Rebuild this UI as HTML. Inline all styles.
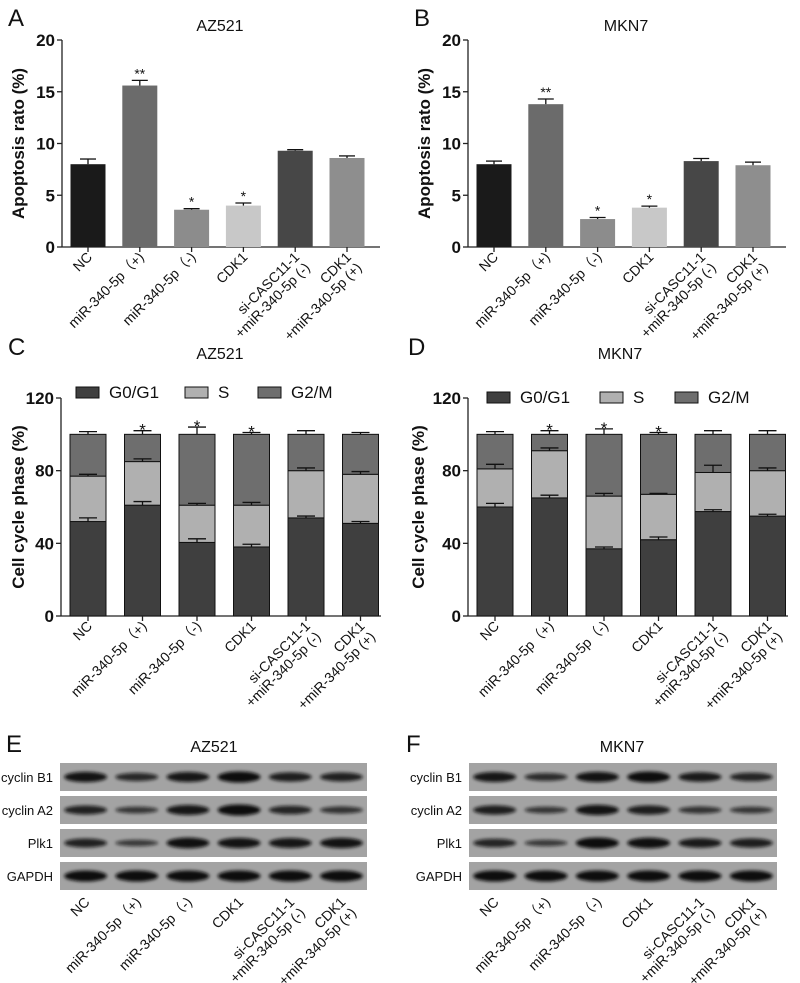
<!DOCTYPE html>
<html><head><meta charset="utf-8"><style>
body{margin:0;background:#fff}
svg{display:block;font-family:"Liberation Sans",Arial,sans-serif}
</style></head><body>
<svg id="fig" width="800" height="983" viewBox="0 0 800 983" xmlns="http://www.w3.org/2000/svg">
<defs><filter id="blur" x="-20%" y="-100%" width="140%" height="300%"><feGaussianBlur stdDeviation="1.6"/></filter></defs>
</svg>
<script>
const categories=["NC","miR-340-5p（+)","miR-340-5p（-)","CDK1","si-CASC11-1|+miR-340-5p (-)","CDK1|+miR-340-5p (+)"];
const apopA=[8.0,15.6,3.6,4.0,9.3,8.6];
const apopAErr=[0.5,0.5,0.1,0.25,0.1,0.2];
const apopB=[8.0,13.8,2.7,3.8,8.3,7.9];
const apopBErr=[0.3,0.5,0.15,0.15,0.25,0.3];
const sigApop=["","**","*","*","",""];
const g1C=[52,61,40.5,38,54,51];
const sC=[25,24,20.5,23,26,27];
const g2C=[23,15,39,39,20,22];
const g1CErr=[2,2,2,1.5,1,1];
const sCErr=[1,1.5,1,1.5,1.5,1.5];
const g2CErr=[1.5,2,4,1,2,1];
const g1D=[60,65,37,42,57.5,55];
const sD=[21,26,29,25,21.5,25];
const g2D=[19,9,34,33,21,20];
const g1DErr=[2,1.5,1,1.5,1,1];
const sDErr=[2.5,1.5,1.5,0.5,4,1.5];
const g2DErr=[1.5,2,3,1,2,2];
const sigCycle=["","*","*","*","",""];
const apopTicks=[0,5,10,15,20];
const cycleTicks=[0,40,80,120];
const blotRows=["cyclin B1","cyclin A2","Plk1","GAPDH"];
const bandE=[[0.9,0.6,0.85,1.0,0.75,0.7],[0.7,0.4,0.85,1.0,0.65,0.45],[0.7,0.35,0.95,0.9,0.85,0.9],[1,1,1,1,1,1]];
const bandF=[[0.85,0.55,0.9,1.0,0.8,0.65],[0.75,0.4,0.9,0.75,0.45,0.4],[0.65,0.35,1.0,0.95,0.8,0.75],[1,1,1,1,1,1]];

const svg=document.getElementById('fig');
const NS="http://www.w3.org/2000/svg";
function mk(tag,attrs,parent){const e=document.createElementNS(NS,tag);for(const k in attrs)e.setAttribute(k,attrs[k]);(parent||svg).appendChild(e);return e;}
function txt(s,attrs,parent){const e=mk('text',attrs,parent);e.textContent=s;return e;}

const apopColors=["#1a1a1a","#6b6b6b","#8c8c8c","#c8c8c8","#474747","#8e8e8e"];

function xLabels(g,xs,y0,name){
  categories.forEach((c,i)=>{
    const parts=c.split('|');
    const t=mk('text',{transform:`translate(${xs[i]+5},${y0}) rotate(-45)`,'text-anchor':'end','font-size':14,fill:'#111'},g);
    
    
    parts.forEach((p,j)=>{const ts=mk('tspan',{x:0,dy:j?15:0},t);ts.textContent=p;});
  });
}

function axisFrame(g,ox,top,bot,right,ticks,max,title,name){
  const y=v=>bot-(bot-top)*v/max;
  mk('line',{x1:ox,y1:top,x2:ox,y2:bot,stroke:'#222','stroke-width':1.3},g);
  mk('line',{x1:ox,y1:bot,x2:right,y2:bot,stroke:'#222','stroke-width':1.3},g);
  ticks.forEach(t=>{
    mk('line',{x1:ox-5,y1:y(t),x2:ox,y2:y(t),stroke:'#222','stroke-width':1.3},g);
    const l=txt(String(t),{x:ox-7,y:y(t)+6,'text-anchor':'end','font-size':17,'font-weight':'bold',fill:'#111'},g);
    
    
  });
  const yt=txt(title,{transform:`translate(24,${(top+bot)/2}) rotate(-90)`,'text-anchor':'middle','font-size':17,'font-weight':'bold',fill:'#111'},g);
  
  
  return y;
}

function errBar(g,x,yv,ye,hw){
  mk('line',{x1:x,y1:yv,x2:x,y2:ye,stroke:'#111','stroke-width':1.3},g);
  mk('line',{x1:x-hw,y1:ye,x2:x+hw,y2:ye,stroke:'#111','stroke-width':1.3},g);
}

function apopChart(dx,vals,errs,title,letter,name){
  const g=mk('g',{transform:`translate(${dx},0)`});
  
  
  const L=txt(letter,{x:8,y:26,'font-size':24,fill:'#111'},g);
  
  
  const T=txt(title,{x:220,y:31,'text-anchor':'middle','font-size':16,fill:'#111'},g);
  
  
  const y=axisFrame(g,62,40,247,380,apopTicks,20,'Apoptosis rato (%)',name);
  const xs=[];
  vals.forEach((v,i)=>{
    const cx=88+i*51.8;xs.push(cx);
    const r=mk('rect',{x:cx-17.5,y:y(v),width:35,height:247-y(v),fill:apopColors[i]},g);
    
    
    errBar(g,cx,y(v),y(v+errs[i]),8);
    mk('line',{x1:cx,y1:247,x2:cx,y2:252,stroke:'#222','stroke-width':1.3},g);
    if(sigApop[i]){const s=txt(sigApop[i],{x:cx,y:y(v+errs[i])-2,'text-anchor':'middle','font-size':14,fill:'#111'},g);
      
      }
  });
  xLabels(g,xs,258,name);
}

function cycleChart(dx,g1,s,g2,e1,e2,e3,title,letter,name,leg){
  const g=mk('g',{transform:`translate(${dx},0)`});
  
  
  const L=txt(letter,{x:8,y:355,'font-size':24,fill:'#111'},g);
  
  
  const T=txt(title,{x:220,y:359,'text-anchor':'middle','font-size':16,fill:'#111'},g);
  
  
  const ox=leg.ox, top=398, bot=616;
  const y=axisFrame(g,ox,top,bot,ox+320,cycleTicks,120,'Cell cycle phase (%)',name);
  const cols=["#3f3f3f","#b0b0b0","#6e6e6e"], lbl=["G0/G1","S","G2/M"];
  lbl.forEach((l,k)=>{
    const sw=mk('rect',{x:leg.sx[k],y:leg.y,width:23,height:11,fill:cols[k],stroke:'#111','stroke-width':1},g);
    
    
    const t=txt(l,{x:leg.sx[k]+33,y:leg.y+11,'font-size':17,fill:'#111'},g);
    
    
  });
  const xs=[];
  g1.forEach((v,i)=>{
    const cx=ox+27+i*54.5;xs.push(cx);
    const segs=[[0,v],[v,v+s[i]],[v+s[i],v+s[i]+g2[i]]];
    const errs=[e1[i],e2[i],e3[i]];
    segs.forEach((sg,k)=>{
      const r=mk('rect',{x:cx-18,y:y(sg[1]),width:36,height:y(sg[0])-y(sg[1]),fill:cols[k],stroke:'#111','stroke-width':1},g);
      
      
    });
    segs.forEach((sg,k)=>errBar(g,cx,y(sg[1]),y(sg[1]+errs[k]),9));
    mk('line',{x1:cx,y1:bot,x2:cx,y2:bot+5,stroke:'#222','stroke-width':1.3},g);
    if(sigCycle[i]){const st=txt(sigCycle[i],{x:cx,y:y(100+errs[2])+5,'text-anchor':'middle','font-size':17,fill:'#111'},g);
      
      }
  });
  xLabels(g,xs,627,name);
}

function blot(x0,x1,bands,title,letter,name,tx,lx){
  const g=mk('g',{});
  
  
  const L=txt(letter,{x:lx,y:752,'font-size':24,fill:'#111'},g);
  
  
  const T=txt(title,{x:tx,y:752,'text-anchor':'middle','font-size':16,fill:'#111'},g);
  
  
  const lw=(x1-x0)/6, xs=[];
  for(let i=0;i<6;i++)xs.push(x0+lw*(i+0.5));
  blotRows.forEach((r,k)=>{
    const yt=763+k*33;
    const rr=mk('rect',{x:x0,y:yt,width:x1-x0,height:28,fill:'#a3a3a3'},g);
    
    
    const lt=txt(r,{x:x0-7,y:yt+19,'text-anchor':'end','font-size':13,fill:'#111'},g);
    
    
    bands[k].forEach((b,i)=>{
      const h=4+b*7;
      const e=mk('ellipse',{cx:xs[i],cy:yt+14,rx:lw*0.42,ry:h/2,fill:'#111',opacity:0.55+0.45*b,filter:'url(#blur)'},g);
      
      
    });
  });
  xLabels(g,xs,903,name);
}

apopChart(0,apopA,apopAErr,'AZ521','A','panel-a-apoptosis');
apopChart(406,apopB,apopBErr,'MKN7','B','panel-b-apoptosis');
cycleChart(0,g1C,sC,g2C,g1CErr,sCErr,g2CErr,'AZ521','C','panel-c-cell-cycle',{ox:61,y:387,sx:[76,185,258]});
cycleChart(400,g1D,sD,g2D,g1DErr,sDErr,g2DErr,'MKN7','D','panel-d-cell-cycle',{ox:68,y:392,sx:[87,200,275]});
blot(60,367,bandE,'AZ521','E','panel-e-western-blot',214,6);
blot(469,777,bandF,'MKN7','F','panel-f-western-blot',622,406);
</script>
</body></html>
